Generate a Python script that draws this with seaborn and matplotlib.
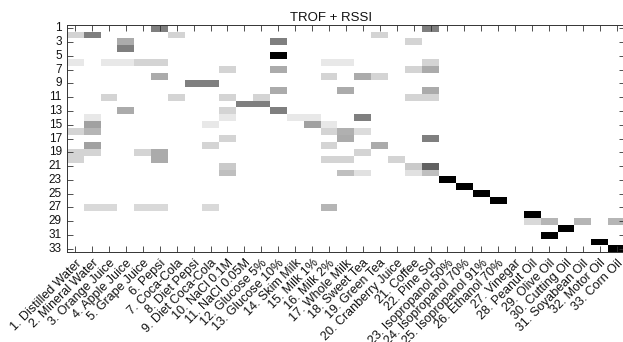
import numpy as np
import pandas as pd
import matplotlib
matplotlib.use("Agg")
import matplotlib.pyplot as plt
import seaborn as sns

# Liquid classes (true class on rows, predicted class on columns)
liquids = [
    "1. Distilled Water", "2. Mineral Water", "3. Orange Juice", "4. Apple Juice",
    "5. Grape Juice", "6. Pepsi", "7. Coca-Cola", "8. Diet Pepsi",
    "9. Diet Coca-Cola", "10. NaCl 0.1M", "11. NaCl 0.05M", "12. Glucose 5%",
    "13. Glucose 10%", "14. Skim Milk", "15. Milk 1%", "16. Milk 2%",
    "17. Whole Milk", "18. Sweet Tea", "19. Green Tea", "20. Cranberry Juice",
    "21. Coffee", "22. Pine Sol", "23. Isopropanol 50%", "24. Isopropanol 70%",
    "25. Isopropanol 91%", "26. Ethanol 70%", "27. Vinegar", "28. Peanut Oil",
    "29. Olive Oil", "30. Cutting Oil", "31. Soyabean Oil", "32. Motor Oil",
    "33. Corn Oil",
]

# Non-zero entries of the confusion matrix (1-based class numbers, fraction of trials)
true_class = [
    1, 1,
    2, 2, 2, 2,
    3, 3, 3,
    4,
    5,
    6, 6, 6, 6, 6, 6, 6, 6,
    7, 7, 7, 7,
    8, 8, 8, 8,
    9, 9,
    10, 10, 10,
    11, 11, 11, 11, 11, 11,
    12, 12,
    13, 13, 13,
    14, 14, 14, 14, 14,
    15, 15, 15, 15,
    16, 16, 16, 16, 16,
    17, 17, 17,
    18, 18, 18, 18,
    19, 19, 19, 19, 19,
    20, 20, 20, 20, 20,
    21, 21, 21,
    22, 22, 22, 22, 22,
    23, 24, 25, 26,
    27, 27, 27, 27, 27, 27,
    28,
    29, 29, 29, 29,
    30, 31, 32, 33,
]
pred_class = [
    6, 22,
    1, 2, 7, 19,
    4, 13, 21,
    4,
    13,
    1, 3, 4, 5, 6, 16, 17, 22,
    10, 13, 21, 22,
    6, 16, 18, 19,
    8, 9,
    13, 17, 22,
    3, 7, 10, 12, 21, 22,
    11, 12,
    4, 10, 13,
    2, 10, 14, 15, 18,
    2, 9, 15, 16,
    1, 2, 16, 17, 18,
    10, 17, 22,
    2, 9, 16, 19,
    1, 2, 5, 6, 18,
    1, 6, 16, 17, 20,
    10, 21, 22,
    10, 17, 18, 21, 22,
    23, 24, 25, 26,
    2, 3, 5, 6, 9, 16,
    28,
    28, 29, 31, 33,
    30, 29, 32, 33,
]
fraction = [
    0.50, 0.50,
    0.17, 0.50, 0.17, 0.17,
    0.33, 0.50, 0.17,
    0.50,
    1.00,
    0.09, 0.09, 0.09, 0.17, 0.17, 0.09, 0.09, 0.17,
    0.17, 0.33, 0.17, 0.33,
    0.33, 0.17, 0.33, 0.17,
    0.50, 0.50,
    0.33, 0.33, 0.33,
    0.17, 0.17, 0.17, 0.17, 0.17, 0.17,
    0.50, 0.50,
    0.33, 0.17, 0.50,
    0.09, 0.09, 0.09, 0.09, 0.50,
    0.37, 0.09, 0.37, 0.09,
    0.17, 0.29, 0.17, 0.31, 0.14,
    0.17, 0.33, 0.50,
    0.37, 0.17, 0.17, 0.33,
    0.17, 0.17, 0.17, 0.33, 0.17,
    0.17, 0.33, 0.17, 0.17, 0.17,
    0.21, 0.21, 0.62,
    0.25, 0.25, 0.12, 0.12, 0.25,
    1.00, 1.00, 1.00, 1.00,
    0.15, 0.15, 0.15, 0.15, 0.15, 0.29,
    1.00,
    0.15, 0.29, 0.29, 0.29,
    1.00, 1.00, 1.00, 1.00,
]

n = len(liquids)
conf = np.zeros((n, n))
for r, c, v in zip(true_class, pred_class, fraction):
    conf[r - 1, c - 1] = v
df = pd.DataFrame(conf, index=range(1, n + 1), columns=liquids)

sns.set_style("white")
plt.rcParams["font.family"] = ["Liberation Sans", "DejaVu Sans"]

fig = plt.figure(figsize=(6.23, 3.42), dpi=100)
ax = fig.add_axes([66.7 / 623, (342 - 252.3) / 342, 558.5 / 623, 227.6 / 342])

sns.heatmap(df, cmap="gray_r", vmin=0, vmax=1, cbar=False, ax=ax,
            xticklabels=liquids, yticklabels=2)

# inward ticks must sit above the cells
ax.set_axisbelow(False)

for side in ["left", "right", "top", "bottom"]:
    ax.spines[side].set_visible(True)
    ax.spines[side].set_color("#333333")
    ax.spines[side].set_linewidth(0.7)

ax.tick_params(axis="both", direction="in", length=4, width=0.6, color="#333333",
               bottom=True, left=True, top=True, right=True,
               labeltop=False, labelright=False, labelbottom=True, labelleft=True,
               labelcolor="#111111", pad=3.5)
ax.tick_params(axis="y", labelsize=8.5)
ax.tick_params(axis="x", labelsize=9)
ax.set_yticklabels(ax.get_yticklabels(), rotation=0)
ax.set_xticklabels(liquids, rotation=45, ha="right", va="top",
                   rotation_mode="anchor")
ax.set_xlabel("")
ax.set_ylabel("")
ax.set_title("TROF + RSSI", fontsize=9.5, x=0.474, pad=2.5, color="#111111")

fig.savefig("out.png", dpi=100)
